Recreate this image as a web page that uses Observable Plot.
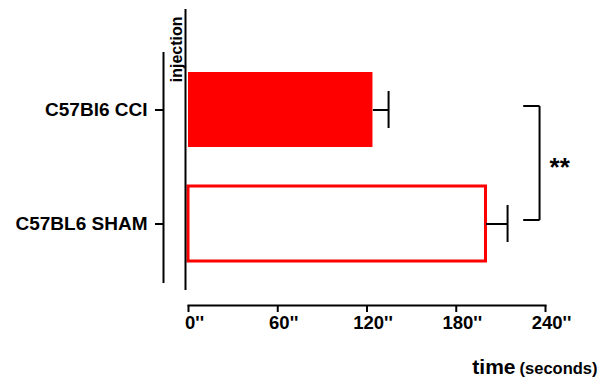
<!DOCTYPE html>
<html><head><meta charset="utf-8">
<script src="https://cdn.jsdelivr.net/npm/d3@7"></script>
<script src="https://cdn.jsdelivr.net/npm/@observablehq/plot@0.6"></script>
<style>body{margin:0;background:#fff}</style>
</head><body><div id="chart"></div>
<script>
const groups = ["C57Bl6 CCI", "C57BL6 SHAM"];
const means = [124, 200];
const errors = [10.5, 14.5];
const xTicks = [0, 60, 120, 180, 240];
const injectionTime = [0];
const injectionLabel = ["injection"];
const sigPairs = [{from: "C57Bl6 CCI", to: "C57BL6 SHAM", label: "**", x1: 225, x2: 236}];
const axisLabels = ["time", "(seconds)"];

const data = groups.map((g, i) => ({group: g, mean: means[i], err: errors[i], hi: means[i] + errors[i]}));
const font = "'Liberation Sans', Arial, sans-serif";

const plot = Plot.plot({
  width: 599, height: 377,
  marginLeft: 188, marginRight: 54, marginTop: 29, marginBottom: 72,
  style: {fontFamily: font, fontWeight: "bold", fontSize: "18px", background: "#fff", color: "#000", overflow: "visible"},
  x: {domain: [0, 240], label: null},
  y: {domain: groups, paddingInner: 0.342, paddingOuter: 0.38, label: null},
  marks: [
    Plot.barX(data.filter(d => d.group === groups[0]), {x: "mean", y: "group", fill: "#ff0000"}),
    Plot.barX(data.filter(d => d.group === groups[1]), {x: "mean", y: "group", fill: "#fff", stroke: "#ff0000", strokeWidth: 3}),
    Plot.link(data, {x1: "mean", x2: "hi", y1: "group", y2: "group", stroke: "#000", strokeWidth: 2}),
    Plot.tickX(data, {x: "hi", y: "group", stroke: "#000", strokeWidth: 2, insetTop: 19, insetBottom: 19}),
    // significance bracket
    Plot.link(sigPairs, {x1: "x2", x2: "x2", y1: "from", y2: "to", stroke: "#000", strokeWidth: 2, dy: -4}),
    Plot.link(sigPairs, {x1: "x1", x2: "x2", y1: "from", y2: "from", stroke: "#000", strokeWidth: 2, dy: -4}),
    Plot.link(sigPairs, {x1: "x1", x2: "x2", y1: "to", y2: "to", stroke: "#000", strokeWidth: 2, dy: -4}),
    Plot.text(sigPairs, {x: "x2", y: "from", text: "label", dy: 58, dx: 10, textAnchor: "start", fontSize: 26, fontWeight: "bold"}),
    // injection marker
    Plot.ruleX(injectionTime, {x: d => d, dx: -3, insetTop: -20, insetBottom: 15, stroke: "#000", strokeWidth: 2}),
    Plot.text(injectionLabel, {x: () => injectionTime[0], text: d => d, frameAnchor: "top", rotate: -90, textAnchor: "end", dx: -17.5, dy: -13, fontSize: 16}),
    // y axis
    Plot.ruleX(injectionTime, {x: d => d, dx: -25, insetTop: 23, insetBottom: 22, stroke: "#000", strokeWidth: 2}),
    Plot.axisY({dx: -25, tickSize: 8, tickPadding: 8, strokeWidth: 2, label: null, fontSize: 19}),
    // x axis
    Plot.frame({anchor: "bottom", stroke: "#000", strokeWidth: 2}),
    Plot.axisX({ticks: xTicks, tickFormat: d => d + "''", tickSize: 7, tickPadding: 3, strokeWidth: 2, label: null, fontSize: 18.5, textAnchor: "middle"}),
    Plot.text([axisLabels[0]], {text: d => d, frameAnchor: "bottom-right", textAnchor: "end", dx: -30, dy: 68.5, fontSize: 21}),
    Plot.text([axisLabels[1]], {text: d => d, frameAnchor: "bottom-right", textAnchor: "end", dx: 52, dy: 68.5, fontSize: 16.5})
  ]
});
// shift the x tick labels to the right, as in the reference (labels hang on the digits)
plot.querySelectorAll("g[aria-label='x-axis tick label']").forEach(g => {
  const t = g.getAttribute("transform") || "";
  g.setAttribute("transform", t + " translate(6,0)");
});
document.getElementById("chart").append(plot);
</script>
</body></html>
